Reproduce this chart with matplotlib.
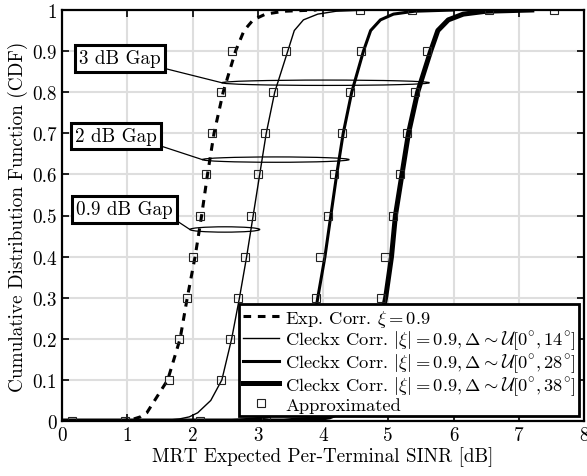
import matplotlib
matplotlib.use("Agg")
import matplotlib.pyplot as plt
from matplotlib.patches import Ellipse

plt.rcParams['font.family'] = 'serif'
plt.rcParams['font.serif'] = ['cmr10']
plt.rcParams['mathtext.fontset'] = 'cm'
plt.rcParams['axes.formatter.use_mathtext'] = True

FS = 13.8

cdf = [0, 0.005, 0.01, 0.02, 0.05, 0.1, 0.2, 0.3, 0.4, 0.5, 0.6, 0.7,
       0.8, 0.9, 0.95, 0.976, 0.99, 0.997, 1]

exp_x = [0.9, 1.1, 1.2, 1.3, 1.42, 1.62, 1.81, 1.92, 2.04, 2.14, 2.23, 2.33,
         2.47, 2.66, 2.79, 2.93, 3.12, 3.4, 3.9]
c14_x = [1.5, 1.8, 1.95, 2.08, 2.28, 2.45, 2.60, 2.72, 2.83, 2.93, 3.03, 3.13,
         3.26, 3.46, 3.56, 3.70, 3.92, 4.2, 4.7]
c28_x = [2.5, 2.95, 3.15, 3.3, 3.52, 3.68, 3.82, 3.92, 4.03, 4.12, 4.21, 4.31,
         4.44, 4.62, 4.73, 4.88, 5.08, 5.4, 6.0]
c38_x = [3.4, 3.9, 4.1, 4.25, 4.48, 4.66, 4.83, 4.96, 5.05, 5.11, 5.21, 5.31,
         5.45, 5.65, 5.76, 5.92, 6.15, 6.5, 7.2]

# approximated points
apx_levels = [0.1, 0.2, 0.3, 0.4, 0.5, 0.6, 0.7, 0.8, 0.9]
apx_exp = [1.64, 1.80, 1.92, 2.00, 2.12, 2.21, 2.30, 2.44, 2.61]
apx_c14 = [2.43, 2.58, 2.69, 2.81, 2.90, 3.00, 3.11, 3.24, 3.44]
apx_c28 = [3.68, 3.80, 3.89, 3.95, 4.08, 4.17, 4.29, 4.41, 4.59]
apx_c38 = [4.68, 4.80, 4.89, 4.95, 5.08, 5.18, 5.28, 5.41, 5.59]
apx_low = [0.15, 0.97, 2.12, 3.13]
apx_high = [4.56, 5.37, 6.55, 7.54]

labels = [r'Exp. Corr. $\xi = 0.9$',
          r'Cleckx Corr. $|\xi| = 0.9, \Delta \sim \mathcal{U}[0^{\circ}, 14^{\circ}]$',
          r'Cleckx Corr. $|\xi| = 0.9, \Delta \sim \mathcal{U}[0^{\circ}, 28^{\circ}]$',
          r'Cleckx Corr. $|\xi| = 0.9, \Delta \sim \mathcal{U}[0^{\circ}, 38^{\circ}]$',
          'Approximated']

fig = plt.figure(figsize=(5.87, 4.77), dpi=100)
ax = fig.add_axes([62/587, 1-422/477, 522/587, 411/477])

ax.plot([0] + exp_x, [0] + cdf, color='k', lw=2.2, ls=(0, (2.5, 2.2)), label=labels[0])
ax.plot([0] + c14_x, [0] + cdf, color='k', lw=1.0, label=labels[1])
ax.plot([0] + c28_x, [0] + cdf, color='k', lw=2.2, label=labels[2])
ax.plot([0] + c38_x, [0] + cdf, color='k', lw=3.6, label=labels[3])

ax_x = apx_exp + apx_c14 + apx_c28 + apx_c38 + apx_low + apx_high
ax_y = apx_levels * 4 + [0] * len(apx_low) + [1] * len(apx_high)
ax.plot(ax_x, ax_y, ls='none', marker='s', ms=6, mfc='none', mec='#222222',
        mew=0.8, label=labels[4])

# gap ellipses and labels
gaps = [("3 dB Gap", 2.45, 5.63, 0.823, 0.89, 0.882),
        ("2 dB Gap", 2.15, 4.40, 0.636, 0.83, 0.694),
        ("0.9 dB Gap", 1.96, 3.03, 0.466, 0.96, 0.515)]
for txt, x0, x1, yc, tx, ty in gaps:
    ax.add_patch(Ellipse(((x0 + x1) / 2, yc), x1 - x0, 0.013, fill=False,
                         ec='k', lw=0.9, zorder=5))
    ax.annotate(txt, xy=(x0, yc), xytext=(tx, ty), fontsize=FS,
                ha='center', va='center', zorder=6,
                bbox=dict(boxstyle='square,pad=0.22', fc='w', ec='k', lw=2.2),
                arrowprops=dict(arrowstyle='-', lw=0.9, color='k',
                                relpos=(1, 0), shrinkA=0, shrinkB=0))

ax.set_xlim(0, 8)
ax.set_ylim(0, 1)
ax.set_xticks(range(9))
ax.set_xticklabels([str(i) for i in range(9)])
ax.set_yticks([i / 10 for i in range(11)])
ax.set_yticklabels(['0'] + ['0.%d' % i for i in range(1, 10)] + ['1'])
ax.tick_params(direction='in', top=True, right=True, length=5, width=1.2,
               labelsize=FS, pad=4)
ax.grid(True, color='#dedede', lw=1.5)
ax.set_axisbelow(True)
for s in ax.spines.values():
    s.set_linewidth(1.6)

ax.set_xlabel('MRT Expected Per-Terminal SINR [dB]', fontsize=FS, labelpad=1)
ax.set_ylabel('Cumulative Distribution Function (CDF)', fontsize=FS, labelpad=3)

leg = ax.legend(loc='lower right', fontsize=13.3, fancybox=False, framealpha=1,
                edgecolor='k', borderaxespad=0.25, handlelength=2.0,
                labelspacing=0.0, borderpad=0.2, handletextpad=0.3)
leg.get_frame().set_linewidth(2.0)

fig.savefig('out.png', dpi=100)
